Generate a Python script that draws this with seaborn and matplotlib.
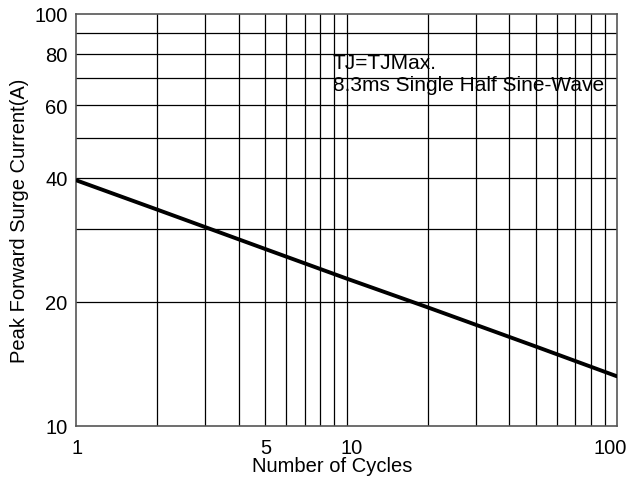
import matplotlib
matplotlib.use("Agg")
import matplotlib.pyplot as plt
import matplotlib.transforms as mtrans
import seaborn as sns
import pandas as pd
from matplotlib.ticker import FixedLocator, NullFormatter, FixedFormatter

cycles = [1, 2, 5, 10, 20, 50, 100]
current = [39.5, 33.5, 26.9, 22.8, 19.4, 15.6, 13.2]

x_ticks = [1, 5, 10, 100]
x_tick_labels = ["1", "5", "10", "100"]
y_ticks = [10, 20, 40, 60, 80, 100]
y_tick_labels = ["10", "20", "40", "60", "80", "100"]
x_grid = [2, 3, 4, 5, 6, 7, 8, 9, 10, 20, 30, 40, 50, 60, 70, 80, 90]
y_grid = [20, 30, 40, 50, 60, 70, 80, 90]

sns.set_style("white")
plt.rcParams['font.family'] = ['Liberation Sans', 'DejaVu Sans']

df = pd.DataFrame({"cycles": cycles, "current": current})

fig = plt.figure(figsize=(6.31, 4.81), dpi=100)
ax = fig.add_axes([76/631, 1-427/481, (617-76)/631, (427-15)/481])
ax.set_xscale("log")
ax.set_yscale("log")
ax.set_xlim(1, 100)
ax.set_ylim(10, 100)

for g in x_grid:
    ax.axvline(g, color="black", lw=0.9, zorder=1)
for g in y_grid:
    ax.axhline(g, color="black", lw=0.9, zorder=1)

sns.lineplot(data=df, x="cycles", y="current", ax=ax, color="black", lw=2.8, zorder=3)

ax.xaxis.set_major_locator(FixedLocator(x_ticks))
ax.xaxis.set_major_formatter(FixedFormatter(x_tick_labels))
ax.xaxis.set_minor_locator(FixedLocator([]))
ax.xaxis.set_minor_formatter(NullFormatter())
ax.yaxis.set_major_locator(FixedLocator(y_ticks))
ax.yaxis.set_major_formatter(FixedFormatter(y_tick_labels))
ax.yaxis.set_minor_locator(FixedLocator([]))
ax.yaxis.set_minor_formatter(NullFormatter())
ax.tick_params(axis="both", length=0, labelsize=14.5, colors="black")
ax.tick_params(axis="x", pad=9)
ax.tick_params(axis="y", pad=6)

fig.canvas.draw()
xlabels = ax.get_xticklabels()
shifts = {"1": 1, "5": 1, "10": 5, "100": -7}
for lab in xlabels:
    dx = shifts.get(lab.get_text(), 0)
    lab.set_transform(lab.get_transform() + mtrans.ScaledTranslation(dx / 100, 0, fig.dpi_scale_trans))

for s in ax.spines.values():
    s.set_color("#555555")
    s.set_linewidth(1.2)

ax.set_xlabel("Number of Cycles", fontsize=14.5, color="black")
ax.xaxis.set_label_coords(0.474, -0.072)
ax.set_ylabel("Peak Forward Surge Current(A)", fontsize=14.5, labelpad=4, color="black")

ax.text(0.475, 0.905, "TJ=TJMax.\n8.3ms Single Half Sine-Wave", transform=ax.transAxes,
        fontsize=15, va="top", ha="left", linespacing=1.17, zorder=4, color="black")

fig.savefig("out.png", dpi=100)
